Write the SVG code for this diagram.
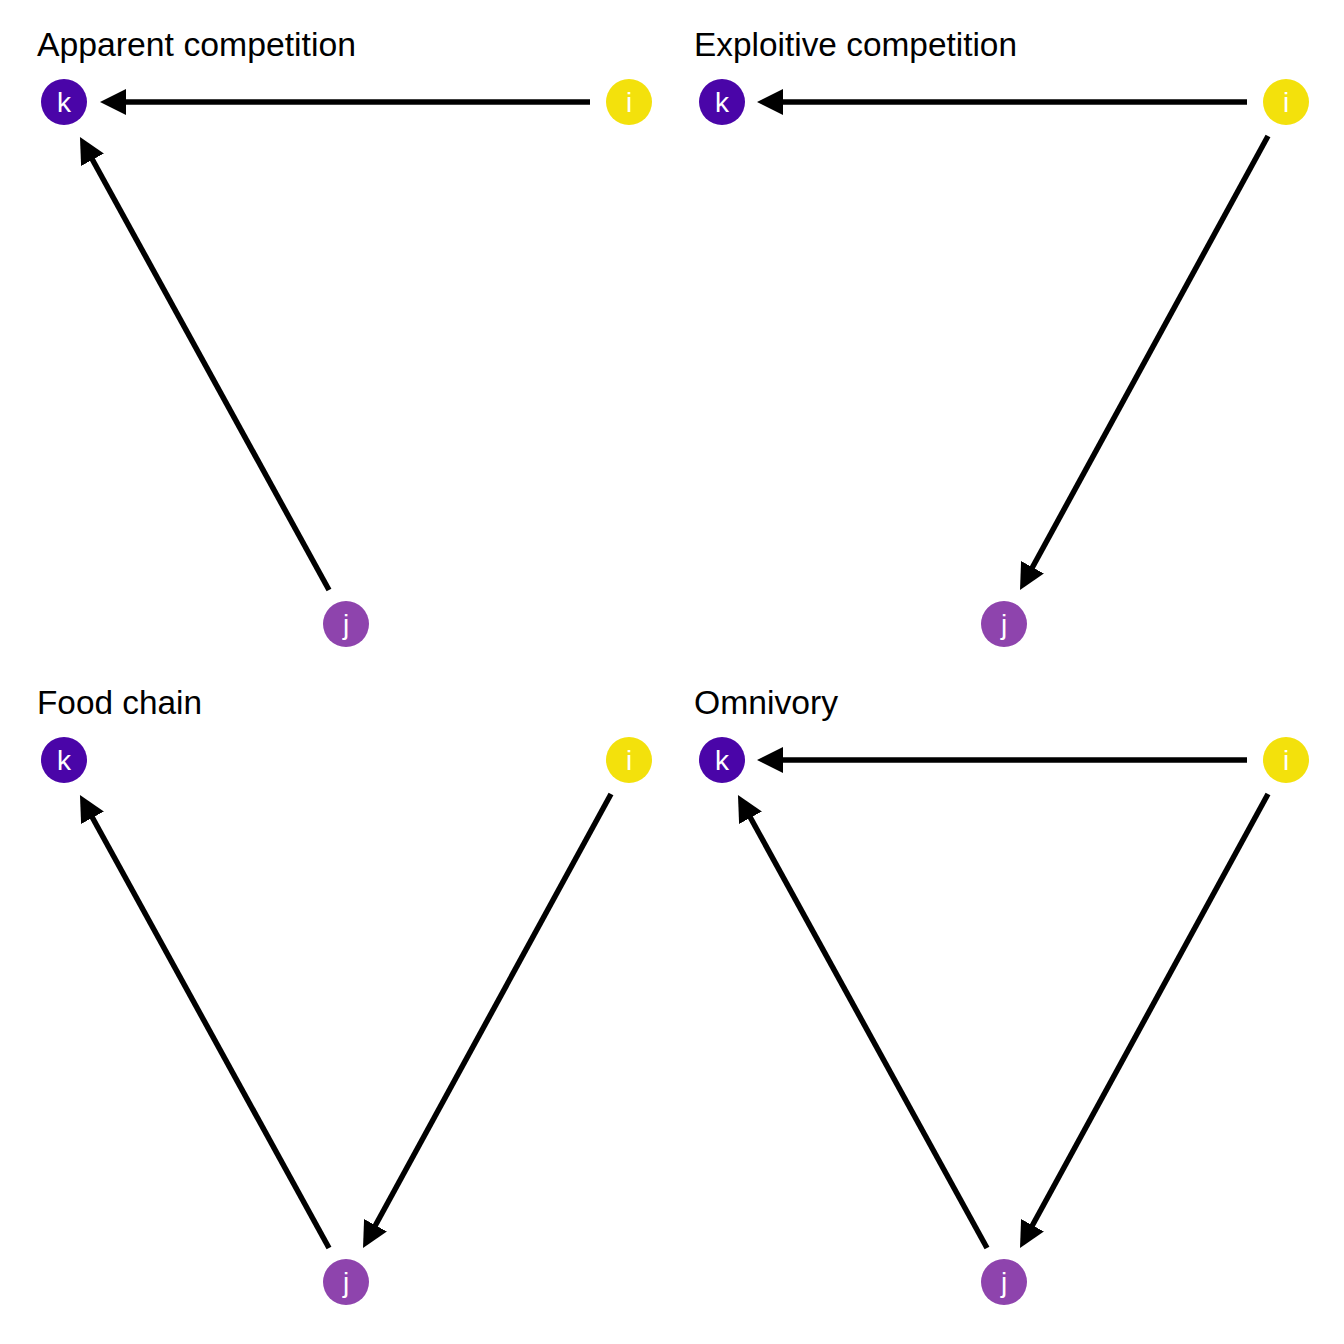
<svg xmlns="http://www.w3.org/2000/svg" width="1344" height="1344" viewBox="0 0 1344 1344">
<style>
.title{font-family:"Liberation Sans",Arial,sans-serif;font-size:33px;fill:#000}
.lbl{font-family:"Liberation Sans",Arial,sans-serif;font-size:28px;fill:#fff;text-anchor:middle}
.edge{stroke:#000;stroke-width:5.5;fill:none;marker-end:url(#ah)}
.k{fill:#4a05a8}
.i{fill:#f3e10c}
.j{fill:#8e44ad}
</style>
<defs>
<marker id="ah" markerUnits="userSpaceOnUse" viewBox="0 0 26 26" markerWidth="26" markerHeight="26" refX="6" refY="13" orient="auto">
<path d="M0,0 L26,13 L0,26 z" fill="#000"/>
</marker>
</defs>
<rect width="1344" height="1344" fill="#fff"/>
<g id="titles">
<text class="title" x="37" y="56" textLength="319" lengthAdjust="spacingAndGlyphs">Apparent competition</text>
<text class="title" x="694" y="56" textLength="323" lengthAdjust="spacingAndGlyphs">Exploitive competition</text>
<text class="title" x="37" y="714" textLength="165" lengthAdjust="spacingAndGlyphs">Food chain</text>
<text class="title" x="694" y="714" textLength="144" lengthAdjust="spacingAndGlyphs">Omnivory</text>
</g>
<g id="connectors">
<line class="edge" x1="590" y1="102" x2="120" y2="102"/>
<line class="edge" x1="329" y1="590" x2="89.6" y2="154.5"/>
<line class="edge" x1="1247" y1="102" x2="777" y2="102"/>
<line class="edge" x1="1268" y1="136" x2="1029.6" y2="572.5"/>
<line class="edge" x1="329" y1="1248" x2="89.6" y2="812.5"/>
<line class="edge" x1="611" y1="794" x2="372.6" y2="1230.5"/>
<line class="edge" x1="1247" y1="760" x2="777" y2="760"/>
<line class="edge" x1="1268" y1="794" x2="1029.6" y2="1230.5"/>
<line class="edge" x1="987" y1="1248" x2="747.6" y2="812.5"/>
</g>
<g id="node-k1"><circle class="k" cx="64" cy="102" r="23"/><text class="lbl" x="64" y="112">k</text></g>
<g id="node-i1"><circle class="i" cx="629" cy="102" r="23"/><text class="lbl" x="629" y="112">i</text></g>
<g id="node-j1"><circle class="j" cx="346" cy="624" r="23"/><text class="lbl" x="346" y="634">j</text></g>
<g id="node-k2"><circle class="k" cx="722" cy="102" r="23"/><text class="lbl" x="722" y="112">k</text></g>
<g id="node-i2"><circle class="i" cx="1286" cy="102" r="23"/><text class="lbl" x="1286" y="112">i</text></g>
<g id="node-j2"><circle class="j" cx="1004" cy="624" r="23"/><text class="lbl" x="1004" y="634">j</text></g>
<g id="node-k3"><circle class="k" cx="64" cy="760" r="23"/><text class="lbl" x="64" y="770">k</text></g>
<g id="node-i3"><circle class="i" cx="629" cy="760" r="23"/><text class="lbl" x="629" y="770">i</text></g>
<g id="node-j3"><circle class="j" cx="346" cy="1282" r="23"/><text class="lbl" x="346" y="1292">j</text></g>
<g id="node-k4"><circle class="k" cx="722" cy="760" r="23"/><text class="lbl" x="722" y="770">k</text></g>
<g id="node-i4"><circle class="i" cx="1286" cy="760" r="23"/><text class="lbl" x="1286" y="770">i</text></g>
<g id="node-j4"><circle class="j" cx="1004" cy="1282" r="23"/><text class="lbl" x="1004" y="1292">j</text></g>
</svg>
